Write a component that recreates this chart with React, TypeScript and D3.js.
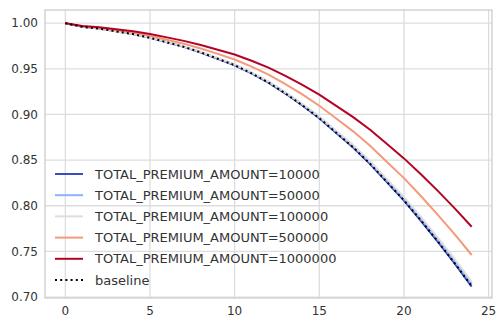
import React from 'react';
import * as d3 from 'd3';

// time points (x) and survival values
const times = [0, 1, 2, 3, 4, 5, 6, 7, 8, 9, 10, 11, 12, 13, 14, 15, 16, 17, 18, 19, 20, 21, 22, 23, 24];

const amount10000 = [1.0, 0.996, 0.994, 0.991, 0.988, 0.984, 0.979, 0.974, 0.9679, 0.9609, 0.9539, 0.9449, 0.9349, 0.9229, 0.9098, 0.8958, 0.8798, 0.8637, 0.8457, 0.8257, 0.8056, 0.7836, 0.7605, 0.7365, 0.7115];
const amount50000 = [1.0, 0.996, 0.994, 0.9911, 0.9881, 0.9842, 0.9792, 0.9743, 0.9683, 0.9614, 0.9544, 0.9455, 0.9356, 0.9237, 0.9109, 0.897, 0.8811, 0.8653, 0.8474, 0.8276, 0.8077, 0.7859, 0.7631, 0.7393, 0.7144];
const amount100000 = [1.0, 0.9961, 0.9941, 0.9912, 0.9882, 0.9843, 0.9794, 0.9745, 0.9686, 0.9618, 0.9549, 0.9461, 0.9363, 0.9245, 0.9117, 0.898, 0.8822, 0.8665, 0.8488, 0.8292, 0.8095, 0.7878, 0.7652, 0.7415, 0.7168];
const amount500000 = [1.0, 0.9966, 0.9948, 0.9922, 0.9896, 0.9862, 0.9819, 0.9775, 0.9723, 0.9663, 0.9602, 0.9524, 0.9437, 0.9332, 0.9219, 0.9096, 0.8956, 0.8815, 0.8657, 0.848, 0.8303, 0.8107, 0.7901, 0.7686, 0.7461];
const amount1000000 = [1.0, 0.997, 0.9955, 0.9933, 0.9911, 0.9881, 0.9844, 0.9806, 0.9761, 0.9709, 0.9656, 0.9588, 0.9513, 0.9422, 0.9323, 0.9217, 0.9094, 0.8971, 0.8832, 0.8676, 0.8519, 0.8346, 0.8163, 0.7971, 0.777];
const baseline = [1.0, 0.996, 0.994, 0.991, 0.988, 0.984, 0.979, 0.974, 0.968, 0.961, 0.954, 0.945, 0.935, 0.923, 0.91, 0.896, 0.88, 0.864, 0.846, 0.826, 0.806, 0.784, 0.761, 0.737, 0.712];

const seriesLabels = [
  'TOTAL_PREMIUM_AMOUNT=10000',
  'TOTAL_PREMIUM_AMOUNT=50000',
  'TOTAL_PREMIUM_AMOUNT=100000',
  'TOTAL_PREMIUM_AMOUNT=500000',
  'TOTAL_PREMIUM_AMOUNT=1000000',
];
const seriesValues = [amount10000, amount50000, amount100000, amount500000, amount1000000];
const seriesColors = ['#3b4cc0', '#8db0fe', '#dddddd', '#f49a7b', '#b40426'];

const xTicks = [0, 5, 10, 15, 20, 25];
const yTicks = [0.7, 0.75, 0.8, 0.85, 0.9, 0.95, 1.0];

const W = 504;
const H = 327;
const left = 45;
const right = 492;
const top = 10;
const bottom = 298;

export default function App() {
  const x = d3.scaleLinear().domain([-1.2, 25.2]).range([left, right]);
  const y = d3.scaleLinear().domain([0.699, 1.0144]).range([bottom, top]);

  const line = d3.line<number>()
    .x((d, i) => x(times[i]))
    .y(d => y(d));

  const font = 'DejaVu Sans, sans-serif';
  const textColor = '#333333';

  return (
    <svg width={W} height={H} style={{ position: 'absolute', left: 0, top: 0, background: '#fff' }}>
      <defs>
        <clipPath id="plotArea">
          <rect x={left} y={top} width={right - left} height={bottom - top} />
        </clipPath>
      </defs>

      {/* grid */}
      {xTicks.map(t => (
        <line key={'gx' + t} x1={x(t)} x2={x(t)} y1={top} y2={bottom} stroke="#dddddd" strokeWidth={1.3} />
      ))}
      {yTicks.map(t => (
        <line key={'gy' + t} x1={left} x2={right} y1={y(t)} y2={y(t)} stroke="#dddddd" strokeWidth={1.3} />
      ))}

      {/* curves */}
      <g clipPath="url(#plotArea)">
        {seriesValues.map((vals, i) => (
          <path key={i} d={line(vals) || ''} fill="none" stroke={seriesColors[i]} strokeWidth={2} />
        ))}
        <path d={line(baseline) || ''} fill="none" stroke="#000" strokeWidth={2} strokeDasharray="2,3.2" />
      </g>

      {/* spines */}
      <rect x={left} y={top} width={right - left} height={bottom - top} fill="none" stroke="#cccccc" strokeWidth={1.3} />

      {/* tick labels */}
      {xTicks.map(t => (
        <text key={'tx' + t} x={x(t)} y={bottom + 17} textAnchor="middle" fontFamily={font} fontSize={12} fill={textColor}>
          {t}
        </text>
      ))}
      {yTicks.map(t => (
        <text key={'ty' + t} x={left - 7} y={y(t) + 4.3} textAnchor="end" fontFamily={font} fontSize={12} fill={textColor}>
          {d3.format('.2f')(t)}
        </text>
      ))}

      {/* legend */}
      {seriesLabels.concat(['baseline']).map((label, i) => {
        const ly = 174 + i * 21.2;
        const isBase = i === seriesLabels.length;
        return (
          <g key={label}>
            <line x1={55} x2={83} y1={ly} y2={ly}
              stroke={isBase ? '#000' : seriesColors[i]} strokeWidth={2}
              strokeDasharray={isBase ? '2,3.2' : undefined} />
            <text x={95} y={ly + 4.6} fontFamily={font} fontSize={13} fill={textColor}>{label}</text>
          </g>
        );
      })}
    </svg>
  );
}
